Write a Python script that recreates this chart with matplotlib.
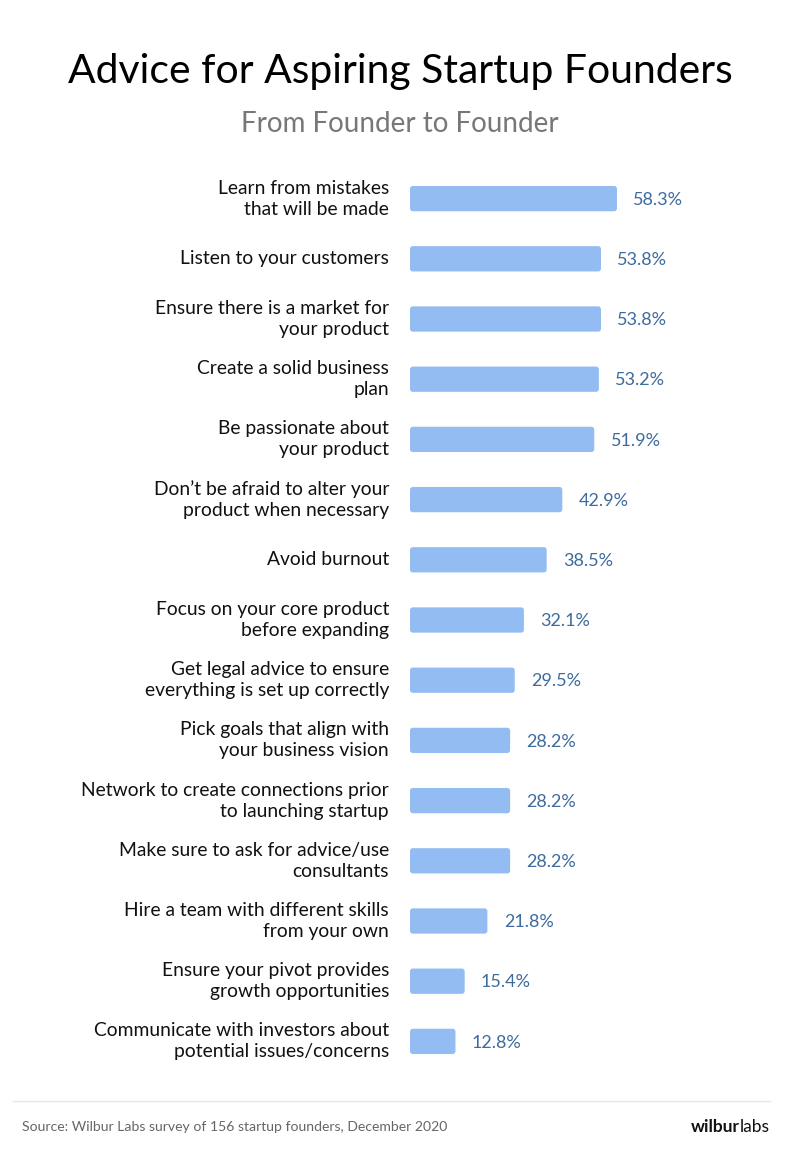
import matplotlib.pyplot as plt
from matplotlib.patches import FancyBboxPatch

# Survey answers (top to bottom) and the share of founders giving each
labels = [
    "Learn from mistakes\nthat will be made",
    "Listen to your customers",
    "Ensure there is a market for\nyour product",
    "Create a solid business\nplan",
    "Be passionate about\nyour product",
    "Don\u2019t be afraid to alter your\nproduct when necessary",
    "Avoid burnout",
    "Focus on your core product\nbefore expanding",
    "Get legal advice to ensure\neverything is set up correctly",
    "Pick goals that align with\nyour business vision",
    "Network to create connections prior\nto launching startup",
    "Make sure to ask for advice/use\nconsultants",
    "Hire a team with different skills\nfrom your own",
    "Ensure your pivot provides\ngrowth opportunities",
    "Communicate with investors about\npotential issues/concerns",
]
values = [58.3, 53.8, 53.8, 53.2, 51.9, 42.9, 38.5, 32.1, 29.5, 28.2, 28.2, 28.2, 21.8, 15.4, 12.8]

plt.rcParams['font.family'] = ['Lato', 'DejaVu Sans']

W, H = 800, 1163
fig = plt.figure(figsize=(W / 100, H / 100), dpi=100)
fig.patch.set_facecolor('white')

# axes placed in pixel terms: bars start at x=410, rows 60.2px apart
top, bottom = 168.5, 1071.5
ax = fig.add_axes([410 / W, 1 - bottom / H, 1 - 410 / W, (bottom - top) / H])
px_per_unit = 3.55
ax.set_xlim(0, (W - 410) / px_per_unit)
ax.set_ylim(len(values) - 0.5, -0.5)
ax.axis('off')

bar_color = '#93bcf2'
val_color = '#3d6b9f'
bar_h = 0.42
ypos = list(range(len(values)))
bars = ax.barh(ypos, values, height=bar_h, color=bar_color)

# swap plain bars for rounded ones with the same geometry
for b in bars:
    x0, y0, w, h = b.get_x(), b.get_y(), b.get_width(), b.get_height()
    b.set_visible(False)
    r = 0.8
    aspect = px_per_unit / 60.2
    p = FancyBboxPatch((x0 + r, y0 + r * aspect), w - 2 * r, h - 2 * r * aspect,
                       boxstyle=f"round,pad={r},rounding_size={r}",
                       mutation_aspect=aspect, facecolor=bar_color, edgecolor='none')
    ax.add_patch(p)

for y, v, lab in zip(ypos, values, labels):
    ax.text(v + 4.6, y + 0.02, f"{v}%", va='center', ha='left', fontsize=13, color=val_color)
    ax.text(-5.9, y, lab, va='center', ha='right', fontsize=13.9, color='#111111',
            linespacing=1.28, clip_on=False)

fig.text(0.5, 1 - 71 / H, "Advice for Aspiring Startup Founders", ha='center', va='center',
         fontsize=29.4, color='black')
fig.text(0.5, 1 - 124 / H, "From Founder to Founder", ha='center', va='center',
         fontsize=20, color='#777777')

# footer rule, source and logo
fig.add_artist(plt.Line2D([13 / W, 770 / W], [1 - 1101 / H, 1 - 1101 / H], color='#e6e6e6', lw=1))
fig.text(22 / W, 1 - 1127 / H, "Source: Wilbur Labs survey of 156 startup founders, December 2020",
         ha='left', va='center', fontsize=10.1, color='#666666')
logo = fig.text(770 / W, 1 - 1127 / H, "labs", ha='right', va='center', fontsize=12.5,
                color='#111111')
fig.canvas.draw()
bb = logo.get_window_extent()
fig.text(bb.x0 / W, 1 - 1127 / H, "wilbur", ha='right', va='center', fontsize=12.5,
         color='#111111', fontweight='bold')

fig.savefig('out.png', dpi=100, facecolor='white')
